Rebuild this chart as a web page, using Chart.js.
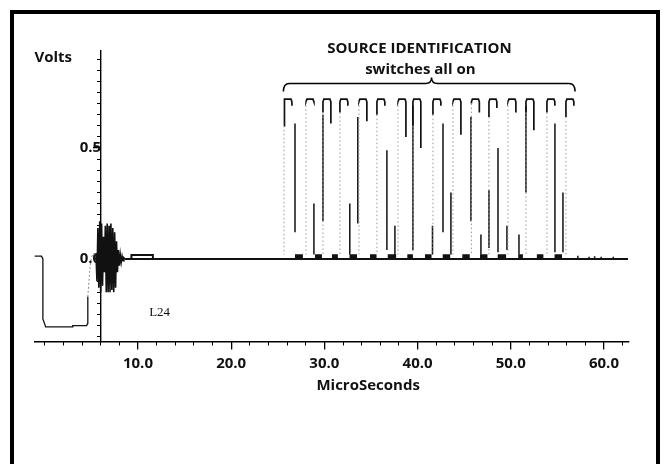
<!DOCTYPE html>
<html>
<head>
<meta charset="utf-8">
<title>Source identification pulses</title>
<script src="https://cdn.jsdelivr.net/npm/chart.js@4.4.1/dist/chart.umd.min.js"></script>
<style>
  html, body { margin: 0; padding: 0; background: #fff; }
  canvas { display: block; }
</style>
</head>
<body>
<canvas id="scope" width="666" height="464"></canvas>
<script>
// axis ranges (microseconds / volts)
const X_MIN = -1.1, X_MAX = 62.6;
const Y_MIN = -0.373, Y_MAX = 0.94;
const Y_AXIS_AT = 6.05;   // the volts axis crosses the time axis here

const xLabelTicks = [10, 20, 30, 40, 50, 60];
const xMinorTicks = [0, 2, 4, 6, 8, 10, 12, 14, 16, 18, 20, 22, 24, 26, 28, 30,
                     32, 34, 36, 38, 40, 42, 44, 46, 48, 50, 52, 54, 56, 58, 60, 62];
const yLabelTicks = [0, 0.5];
const yMinorTicks = [-0.35, -0.3, -0.25, -0.2, -0.15, -0.1, -0.05, 0, 0.05, 0.1, 0.15, 0.2, 0.25,
                     0.3, 0.35, 0.4, 0.45, 0.5, 0.55, 0.6, 0.65, 0.7, 0.75, 0.8, 0.85, 0.9];

// leading negative pulse
const leadT = [-1.1, -0.35, -0.2, -0.2, 0.1, 3.0, 3.0, 4.5, 4.6, 4.62];
const leadV = [0.013, 0.013, 0.0, -0.27, -0.306, -0.306, -0.300, -0.300, -0.29, -0.17];
// faint return edge into the burst
const riseT = [4.62, 4.85, 5.0, 5.2, 5.5];
const riseV = [-0.17, -0.04, 0.005, 0.025, 0.02];

// ringing burst
const burstT = [5.5, 5.6, 5.7, 5.8, 5.9, 6.0, 6.1, 6.2, 6.3, 6.4, 6.5, 6.6, 6.7, 6.8, 6.9, 7.0,
                7.1, 7.2, 7.3, 7.4, 7.5, 7.6, 7.7, 7.8, 7.9, 8.0, 8.1, 8.2, 8.3, 8.4, 8.5, 8.6];
const burstV = [0.02, -0.10, 0.14, -0.13, 0.17, -0.15, 0.16, -0.12, 0.10, -0.06, 0.15, -0.15,
                0.16, -0.15, 0.15, -0.15, 0.16, -0.14, 0.14, -0.15, 0.12, -0.13, 0.08, -0.06,
                0.04, -0.03, 0.02, -0.015, 0.012, -0.008, 0.005, 0.0];

// flat trace and the small step after the burst
const baseT = [8.6, 62.6];
const baseV = [0, 0];
const bumpT = [9.3, 9.3, 11.6, 11.6];
const bumpV = [0, 0.018, 0.018, 0];

// source identification pulses: start of each top, leg ends of the top hook
const PULSE_TOP = 0.72;
const pulseStart = [25.67, 28.03, 29.85, 31.67, 33.71, 35.64, 37.90, 39.50,
                    41.65, 43.80, 45.78, 47.66, 49.70, 51.63, 53.88, 55.92];
const hookLeft  = [0.60, 0.71, 0.66, 0.66, 0.71, 0.65, 0.71, 0.60,
                   0.65, 0.71, 0.70, 0.64, 0.71, 0.66, 0.66, 0.64];
const hookRight = [0.69, 0.71, 0.61, 0.69, 0.62, 0.69, 0.55, 0.50,
                   0.69, 0.56, 0.66, 0.68, 0.66, 0.58, 0.69, 0.69];

// edges that survived as solid strokes
const spurT   = [26.85, 28.88, 29.85, 32.73, 33.59, 36.71, 37.57, 39.50, 41.60, 42.73,
                 43.58, 45.73, 46.80, 47.66, 48.63, 49.59, 50.88, 51.63, 54.74, 55.60];
const spurTop = [0.61, 0.25, 0.65, 0.25, 0.64, 0.49, 0.15, 0.69, 0.15, 0.61,
                 0.30, 0.64, 0.11, 0.31, 0.50, 0.15, 0.11, 0.69, 0.61, 0.30];
const spurBot = [0.12, 0.02, 0.17, 0.02, 0.16, 0.04, 0.01, 0.04, 0.02, 0.12,
                 0.02, 0.17, 0.02, 0.05, 0.03, 0.04, 0.02, 0.30, 0.03, 0.03];

// dark low-level dwell between pulses
const blobFrom = [26.85, 29.0, 30.82, 32.7, 34.9, 36.8, 38.9, 40.8,
                  42.7, 44.8, 46.7, 48.6, 50.8, 52.8, 54.7];
const blobTo   = [27.7, 29.74, 31.45, 33.5, 35.6, 37.7, 39.5, 41.5,
                  43.5, 45.6, 47.5, 49.5, 51.3, 53.5, 55.5];

// small ripple after the last pulse
const rippleT = [57.2, 58.4, 59.0, 59.7, 61.0];
const rippleV = [0.015, 0.01, 0.012, 0.01, 0.01];

// annotation text
const BRACE_FROM = 25.6, BRACE_TO = 56.9, BRACE_TIP = 41.5;
const BRACE_LEVEL = 0.791, BRACE_END = 0.754, BRACE_PEAK = 0.818;

function pts(ts, vs) {
  return ts.map((t, i) => ({ x: t, y: vs[i] }));
}

// join several pieces into one dataset, broken by null points
function joinSegments(segs) {
  const out = [];
  segs.forEach((s, k) => {
    if (k) out.push({ x: s[0].x, y: null });
    out.push(...s);
  });
  return out;
}

const HOOK_W = 0.85;
const hookSegs = pulseStart.map((t, i) => [
  { x: t, y: hookLeft[i] }, { x: t, y: PULSE_TOP - 0.012 }, { x: t + 0.1, y: PULSE_TOP },
  { x: t + HOOK_W - 0.1, y: PULSE_TOP }, { x: t + HOOK_W, y: PULSE_TOP - 0.012 },
  { x: t + HOOK_W, y: hookRight[i] }
]);
const edgeSegs = pulseStart.map((t, i) => [{ x: t, y: hookLeft[i] }, { x: t, y: 0.02 }]);
const spurSegs = spurT.map((t, i) => [{ x: t, y: spurTop[i] }, { x: t, y: spurBot[i] }]);
const blobSegs = blobFrom.map((t, i) => [{ x: t, y: 0.01 }, { x: blobTo[i], y: 0.01 }]);
const rippleSegs = rippleT.map((t, i) => [{ x: t, y: 0 }, { x: t, y: rippleV[i] }]);

function trace(data, width, color, dash) {
  return {
    data,
    borderColor: color,
    borderWidth: width,
    borderDash: dash || [],
    pointRadius: 0,
    tension: 0,
    fill: false,
    xAxisID: 'x',
    yAxisID: 'y'
  };
}

const ink = '#111';
const tickFont = { family: '"Open Sans", "DejaVu Sans", sans-serif', size: 15, weight: 'bold' };

const annotations = {
  id: 'annotations',
  afterDraw(chart) {
    const { ctx, chartArea } = chart;
    const sx = v => chart.scales.x.getPixelForValue(v);
    const sy = v => chart.scales.y.getPixelForValue(v);
    ctx.save();
    // frame round the figure
    ctx.strokeStyle = '#000';
    ctx.lineWidth = 4;
    ctx.strokeRect(12, 12, 646, 470);

    ctx.fillStyle = ink;
    ctx.font = 'bold 15px "Open Sans", "DejaVu Sans", sans-serif';
    ctx.textBaseline = 'middle';
    ctx.textAlign = 'left';
    ctx.fillText('Volts', chartArea.left, 58);
    ctx.textAlign = 'center';
    ctx.fillText('MicroSeconds', sx(34.7), chartArea.bottom + 44);
    ctx.fillText('SOURCE IDENTIFICATION', sx(40.2), sy(0.948));
    ctx.fillText('switches all on', sx(40.3), sy(0.851));

    // brace over the pulses
    const x0 = sx(BRACE_FROM), x1 = sx(BRACE_TO), xm = sx(BRACE_TIP);
    const yl = sy(BRACE_LEVEL), ye = sy(BRACE_END), yp = sy(BRACE_PEAK);
    ctx.lineWidth = 1.5;
    ctx.beginPath();
    ctx.moveTo(x0, ye);
    ctx.quadraticCurveTo(x0, yl, x0 + 6, yl);
    ctx.lineTo(xm - 6, yl);
    ctx.quadraticCurveTo(xm, yl, xm, yp);
    ctx.quadraticCurveTo(xm, yl, xm + 6, yl);
    ctx.lineTo(x1 - 6, yl);
    ctx.quadraticCurveTo(x1, yl, x1, ye);
    ctx.stroke();

    ctx.font = '13px "Liberation Serif", serif';
    ctx.textAlign = 'left';
    ctx.fillText('L24', sx(11.2), sy(-0.243));
    ctx.restore();
  }
};

new Chart(document.getElementById('scope'), {
  type: 'line',
  data: {
    datasets: [
      trace(pts(leadT, leadV), 1.3, ink),
      trace(pts(riseT, riseV), 1, '#888', [2, 2]),
      trace(pts(burstT, burstV), 1.6, ink),
      trace(joinSegments([pts(baseT, baseV), pts(bumpT, bumpV)]), 2, ink),
      trace(joinSegments(edgeSegs), 1, '#999', [1.5, 2.5]),
      trace(joinSegments(spurSegs), 1.5, ink),
      trace(joinSegments(hookSegs), 1.7, ink),
      trace(joinSegments(blobSegs), 5, ink),
      trace(joinSegments(rippleSegs), 1.5, ink)
    ]
  },
  options: {
    responsive: false,
    animation: false,
    events: [],
    layout: { padding: { left: 34.5, right: 37.8, top: 50.3, bottom: 122.2 } },
    plugins: { legend: { display: false }, tooltip: { enabled: false } },
    scales: {
      x: {
        type: 'linear', min: X_MIN, max: X_MAX,
        position: { y: Y_MIN },
        afterBuildTicks: s => { s.ticks = xLabelTicks.map(v => ({ value: v })); },
        grid: { drawOnChartArea: false, tickLength: 7, color: '#000', lineWidth: 1.3 },
        border: { color: '#000', width: 1.6 },
        ticks: { color: ink, padding: 6, autoSkip: false, maxRotation: 0, font: tickFont,
                 callback: v => v.toFixed(1) }
      },
      x2: {
        type: 'linear', axis: 'x', min: X_MIN, max: X_MAX,
        position: { y: Y_MIN },
        afterBuildTicks: s => { s.ticks = xMinorTicks.map(v => ({ value: v })); },
        grid: { drawOnChartArea: false, tickLength: 3.5, color: '#000', lineWidth: 1 },
        border: { display: false },
        ticks: { display: false }
      },
      y: {
        type: 'linear', min: Y_MIN, max: Y_MAX,
        position: { x: Y_AXIS_AT },
        afterBuildTicks: s => { s.ticks = yLabelTicks.map(v => ({ value: v })); },
        grid: { drawOnChartArea: false, tickLength: 7, color: '#000', lineWidth: 1.3 },
        border: { color: '#000', width: 1.4 },
        ticks: { color: ink, padding: 3, autoSkip: false, font: tickFont,
                 callback: v => v.toFixed(1) }
      },
      y2: {
        type: 'linear', axis: 'y', min: Y_MIN, max: Y_MAX,
        position: { x: Y_AXIS_AT },
        afterBuildTicks: s => { s.ticks = yMinorTicks.map(v => ({ value: v })); },
        grid: { drawOnChartArea: false, tickLength: 4, color: '#000', lineWidth: 1 },
        border: { display: false },
        ticks: { display: false }
      }
    }
  },
  plugins: [annotations]
});
</script>
</body>
</html>
